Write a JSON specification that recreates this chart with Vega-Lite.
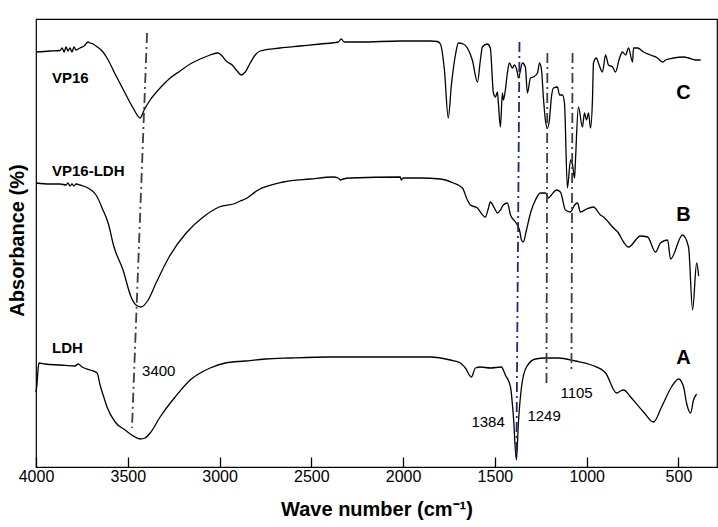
{
  "$schema": "https://vega.github.io/schema/vega-lite/v6.json",
  "width": 681,
  "height": 448,
  "autosize": "none",
  "padding": {"left": 36, "top": 19, "right": 1, "bottom": 60},
  "background": "white",
  "config": {
    "view": {"stroke": "black", "strokeWidth": 1.2},
    "font": "Liberation Sans",
    "axis": {"labelFont": "Liberation Sans", "titleFont": "Liberation Sans"},
    "text": {"font": "Liberation Sans"}
  },
  "datasets": {
    "spectra": [
      {"s":"C","w":4000,"a":415},{"s":"C","w":3924,"a":416},{"s":"C","w":3869,"a":416.5},{"s":"C","w":3858,"a":419},{"s":"C","w":3847,"a":415},{"s":"C","w":3836,"a":420},{"s":"C","w":3826,"a":416},{"s":"C","w":3815,"a":419},{"s":"C","w":3804,"a":415},{"s":"C","w":3793,"a":420},{"s":"C","w":3782,"a":417},{"s":"C","w":3760,"a":419},{"s":"C","w":3738,"a":421},{"s":"C","w":3716,"a":425},{"s":"C","w":3706,"a":424},{"s":"C","w":3689,"a":423},{"s":"C","w":3673,"a":421},{"s":"C","w":3651,"a":418},{"s":"C","w":3635,"a":415},{"s":"C","w":3613,"a":409},{"s":"C","w":3569,"a":393},{"s":"C","w":3515,"a":374},{"s":"C","w":3471,"a":359},{"s":"C","w":3433,"a":349},{"s":"C","w":3411,"a":357},{"s":"C","w":3378,"a":367},{"s":"C","w":3324,"a":379},{"s":"C","w":3269,"a":389},{"s":"C","w":3215,"a":396},{"s":"C","w":3160,"a":403},{"s":"C","w":3106,"a":408},{"s":"C","w":3051,"a":412},{"s":"C","w":3008,"a":414},{"s":"C","w":2986,"a":411},{"s":"C","w":2964,"a":406},{"s":"C","w":2931,"a":402},{"s":"C","w":2904,"a":396},{"s":"C","w":2882,"a":392},{"s":"C","w":2860,"a":395},{"s":"C","w":2833,"a":404},{"s":"C","w":2806,"a":412},{"s":"C","w":2779,"a":416},{"s":"C","w":2670,"a":419},{"s":"C","w":2561,"a":421},{"s":"C","w":2451,"a":423},{"s":"C","w":2353,"a":425},{"s":"C","w":2337,"a":428},{"s":"C","w":2321,"a":425},{"s":"C","w":2233,"a":425},{"s":"C","w":2015,"a":426},{"s":"C","w":1852,"a":426},{"s":"C","w":1813,"a":425.5},{"s":"C","w":1797,"a":423},{"s":"C","w":1775,"a":397},{"s":"C","w":1754,"a":349},{"s":"C","w":1737,"a":382},{"s":"C","w":1715,"a":412},{"s":"C","w":1699,"a":424},{"s":"C","w":1672,"a":423},{"s":"C","w":1650,"a":419},{"s":"C","w":1623,"a":407},{"s":"C","w":1595,"a":385},{"s":"C","w":1579,"a":407},{"s":"C","w":1568,"a":420},{"s":"C","w":1541,"a":423},{"s":"C","w":1525,"a":419},{"s":"C","w":1508,"a":374},{"s":"C","w":1497,"a":370},{"s":"C","w":1486,"a":375},{"s":"C","w":1481,"a":364},{"s":"C","w":1470,"a":340},{"s":"C","w":1459,"a":374},{"s":"C","w":1454,"a":367},{"s":"C","w":1443,"a":377},{"s":"C","w":1432,"a":394},{"s":"C","w":1421,"a":404},{"s":"C","w":1405,"a":399},{"s":"C","w":1394,"a":402},{"s":"C","w":1377,"a":394},{"s":"C","w":1372,"a":389},{"s":"C","w":1350,"a":404},{"s":"C","w":1334,"a":400},{"s":"C","w":1323,"a":374},{"s":"C","w":1306,"a":389},{"s":"C","w":1290,"a":390},{"s":"C","w":1268,"a":394},{"s":"C","w":1257,"a":404},{"s":"C","w":1246,"a":397},{"s":"C","w":1236,"a":370},{"s":"C","w":1225,"a":347},{"s":"C","w":1214,"a":339},{"s":"C","w":1203,"a":347},{"s":"C","w":1192,"a":370},{"s":"C","w":1181,"a":379},{"s":"C","w":1159,"a":380},{"s":"C","w":1148,"a":372},{"s":"C","w":1132,"a":372},{"s":"C","w":1121,"a":364},{"s":"C","w":1105,"a":279},{"s":"C","w":1088,"a":307},{"s":"C","w":1077,"a":302},{"s":"C","w":1066,"a":289},{"s":"C","w":1061,"a":307},{"s":"C","w":1045,"a":360},{"s":"C","w":1023,"a":340},{"s":"C","w":1012,"a":354},{"s":"C","w":1001,"a":347},{"s":"C","w":990,"a":354},{"s":"C","w":979,"a":339},{"s":"C","w":968,"a":370},{"s":"C","w":963,"a":404},{"s":"C","w":947,"a":409},{"s":"C","w":936,"a":404},{"s":"C","w":914,"a":395},{"s":"C","w":897,"a":412},{"s":"C","w":881,"a":402},{"s":"C","w":859,"a":400},{"s":"C","w":843,"a":395},{"s":"C","w":821,"a":409},{"s":"C","w":805,"a":415},{"s":"C","w":788,"a":412},{"s":"C","w":772,"a":419},{"s":"C","w":750,"a":405},{"s":"C","w":745,"a":419},{"s":"C","w":723,"a":419},{"s":"C","w":690,"a":415},{"s":"C","w":652,"a":412},{"s":"C","w":614,"a":409},{"s":"C","w":587,"a":405},{"s":"C","w":570,"a":407},{"s":"C","w":527,"a":409},{"s":"C","w":472,"a":410},{"s":"C","w":445,"a":409},{"s":"C","w":407,"a":407},{"s":"C","w":379,"a":407},
      {"s":"B","w":4000,"a":284},{"s":"B","w":3924,"a":283},{"s":"B","w":3869,"a":283},{"s":"B","w":3836,"a":282},{"s":"B","w":3826,"a":284},{"s":"B","w":3815,"a":281},{"s":"B","w":3804,"a":283},{"s":"B","w":3793,"a":281},{"s":"B","w":3782,"a":283},{"s":"B","w":3760,"a":282},{"s":"B","w":3727,"a":280},{"s":"B","w":3700,"a":277},{"s":"B","w":3673,"a":272},{"s":"B","w":3635,"a":257},{"s":"B","w":3607,"a":244},{"s":"B","w":3575,"a":220},{"s":"B","w":3526,"a":197},{"s":"B","w":3482,"a":170},{"s":"B","w":3455,"a":162},{"s":"B","w":3427,"a":160},{"s":"B","w":3389,"a":167},{"s":"B","w":3346,"a":184},{"s":"B","w":3275,"a":210},{"s":"B","w":3182,"a":234},{"s":"B","w":3089,"a":250},{"s":"B","w":3002,"a":260},{"s":"B","w":2909,"a":264},{"s":"B","w":2888,"a":266},{"s":"B","w":2860,"a":268},{"s":"B","w":2790,"a":277},{"s":"B","w":2653,"a":285},{"s":"B","w":2506,"a":288},{"s":"B","w":2381,"a":290},{"s":"B","w":2353,"a":289},{"s":"B","w":2342,"a":287},{"s":"B","w":2326,"a":288},{"s":"B","w":2288,"a":289},{"s":"B","w":2015,"a":290},{"s":"B","w":2010,"a":287},{"s":"B","w":1999,"a":289},{"s":"B","w":1906,"a":289},{"s":"B","w":1797,"a":288},{"s":"B","w":1726,"a":284},{"s":"B","w":1677,"a":279},{"s":"B","w":1650,"a":267},{"s":"B","w":1634,"a":262},{"s":"B","w":1595,"a":259},{"s":"B","w":1579,"a":255},{"s":"B","w":1552,"a":250},{"s":"B","w":1535,"a":259},{"s":"B","w":1525,"a":265},{"s":"B","w":1503,"a":259},{"s":"B","w":1486,"a":254},{"s":"B","w":1470,"a":257},{"s":"B","w":1454,"a":262},{"s":"B","w":1432,"a":264},{"s":"B","w":1415,"a":252},{"s":"B","w":1388,"a":245},{"s":"B","w":1366,"a":237},{"s":"B","w":1355,"a":227},{"s":"B","w":1345,"a":225},{"s":"B","w":1328,"a":237},{"s":"B","w":1306,"a":254},{"s":"B","w":1279,"a":267},{"s":"B","w":1252,"a":274},{"s":"B","w":1225,"a":274},{"s":"B","w":1208,"a":269},{"s":"B","w":1192,"a":272},{"s":"B","w":1165,"a":277},{"s":"B","w":1143,"a":275},{"s":"B","w":1116,"a":257},{"s":"B","w":1088,"a":255},{"s":"B","w":1066,"a":262},{"s":"B","w":1050,"a":264},{"s":"B","w":1034,"a":255},{"s":"B","w":1001,"a":258},{"s":"B","w":963,"a":260},{"s":"B","w":925,"a":252},{"s":"B","w":908,"a":250},{"s":"B","w":859,"a":240},{"s":"B","w":827,"a":234},{"s":"B","w":799,"a":225},{"s":"B","w":772,"a":220},{"s":"B","w":707,"a":231},{"s":"B","w":668,"a":230},{"s":"B","w":625,"a":215},{"s":"B","w":598,"a":224},{"s":"B","w":559,"a":227},{"s":"B","w":543,"a":208},{"s":"B","w":478,"a":232},{"s":"B","w":445,"a":220},{"s":"B","w":423,"a":157},{"s":"B","w":401,"a":204},{"s":"B","w":390,"a":191},
      {"s":"A","w":4000,"a":75},{"s":"A","w":3995,"a":82},{"s":"A","w":3989,"a":97},{"s":"A","w":3984,"a":104},{"s":"A","w":3951,"a":103},{"s":"A","w":3869,"a":102},{"s":"A","w":3787,"a":101},{"s":"A","w":3771,"a":103},{"s":"A","w":3749,"a":100},{"s":"A","w":3706,"a":97},{"s":"A","w":3667,"a":94},{"s":"A","w":3651,"a":82},{"s":"A","w":3629,"a":69},{"s":"A","w":3613,"a":60},{"s":"A","w":3569,"a":45},{"s":"A","w":3515,"a":37},{"s":"A","w":3460,"a":30},{"s":"A","w":3433,"a":28},{"s":"A","w":3406,"a":29},{"s":"A","w":3378,"a":34},{"s":"A","w":3324,"a":50},{"s":"A","w":3242,"a":70},{"s":"A","w":3160,"a":87},{"s":"A","w":3051,"a":99},{"s":"A","w":2969,"a":104},{"s":"A","w":2860,"a":106},{"s":"A","w":2751,"a":108},{"s":"A","w":2615,"a":109},{"s":"A","w":2397,"a":110},{"s":"A","w":2244,"a":110},{"s":"A","w":2015,"a":110},{"s":"A","w":1852,"a":110},{"s":"A","w":1743,"a":107},{"s":"A","w":1688,"a":104},{"s":"A","w":1661,"a":99},{"s":"A","w":1628,"a":90},{"s":"A","w":1606,"a":99},{"s":"A","w":1579,"a":100},{"s":"A","w":1525,"a":99},{"s":"A","w":1465,"a":100},{"s":"A","w":1443,"a":92},{"s":"A","w":1415,"a":80},{"s":"A","w":1399,"a":50},{"s":"A","w":1383,"a":7},{"s":"A","w":1372,"a":44},{"s":"A","w":1355,"a":80},{"s":"A","w":1328,"a":100},{"s":"A","w":1279,"a":108},{"s":"A","w":1225,"a":109},{"s":"A","w":1154,"a":109},{"s":"A","w":1061,"a":106},{"s":"A","w":974,"a":102},{"s":"A","w":897,"a":94},{"s":"A","w":837,"a":74},{"s":"A","w":816,"a":76},{"s":"A","w":799,"a":77},{"s":"A","w":756,"a":69},{"s":"A","w":690,"a":55},{"s":"A","w":636,"a":45},{"s":"A","w":592,"a":60},{"s":"A","w":538,"a":80},{"s":"A","w":499,"a":88},{"s":"A","w":472,"a":80},{"s":"A","w":456,"a":64},{"s":"A","w":434,"a":54},{"s":"A","w":418,"a":67},{"s":"A","w":401,"a":73}
    ],
    "guides": [
      {"kind":"OH","w":3395,"a":434,"w2":3477,"a2":39},
      {"kind":"nitrate","w":1366,"a":425,"w2":1383,"a2":10},
      {"kind":"drug","w":1214,"a":414,"w2":1219,"a2":84},
      {"kind":"drug","w":1077,"a":414,"w2":1083,"a2":94}
    ],
    "majorTicks": [{"w":4000},{"w":3500},{"w":3000},{"w":2500},{"w":2000},{"w":1500},{"w":1000},{"w":500}],
    "minorTicks": [{"w":3750},{"w":3250},{"w":2750},{"w":2250},{"w":1750},{"w":1250},{"w":750}],
    "names": [
      {"t":"VP16","w":3913,"a":389},
      {"t":"VP16-LDH","w":3913,"a":296},
      {"t":"LDH","w":3913,"a":119}
    ],
    "letters": [
      {"t":"C","w":472,"a":374},
      {"t":"B","w":472,"a":252},
      {"t":"A","w":472,"a":109}
    ],
    "peaks": [
      {"t":"3400","w":3422,"a":96},
      {"t":"1384","w":1628,"a":45},
      {"t":"1249","w":1323,"a":51},
      {"t":"1105","w":1143,"a":74}
    ]
  },
  "encoding": {
    "x": {
      "field": "w", "type": "quantitative",
      "scale": {"domain": [290, 4000], "reverse": true, "zero": false, "nice": false},
      "axis": {
        "title": "Wave number (cm⁻¹)",
        "values": [4000,3500,3000,2500,2000,1500,1000,500],
        "format": "d",
        "ticks": true,
        "tickSize": -10,
        "tickColor": "black",
        "tickWidth": 1.3,
        "zindex": 1,
        "domain": false, "grid": false,
        "labelFontSize": 16, "labelColor": "black", "labelPadding": 11, "labelFlush": false,
        "titleFontSize": 20, "titleFontWeight": "bold", "titleColor": "black",
        "titleBaseline": "middle", "titleY": 42
      }
    },
    "y": {
      "field": "a", "type": "quantitative",
      "scale": {"domain": [0, 448], "zero": false, "nice": false},
      "axis": {
        "title": "Absorbance (%)", "labels": false, "ticks": false, "domain": false, "grid": false,
        "titleFontSize": 20, "titleFontWeight": "bold", "titleColor": "black",
        "titleAngle": -90, "titleAlign": "center", "titleBaseline": "middle",
        "titleX": -19, "titleY": 221
      }
    }
  },
  "layer": [
    {
      "data": {"name": "spectra"},
      "mark": {"type": "line", "color": "black", "strokeWidth": 1.3, "interpolate": "monotone"},
      "encoding": {
        "detail": {"field": "s", "type": "nominal"}
      }
    },
    {
      "data": {"name": "majorTicks"},
      "mark": {"type": "rule", "color": "black", "strokeWidth": 1.4, "opacity": 1},
      "encoding": {
        "y": {"datum": 0, "type": "quantitative"},
        "y2": {"datum": 11}
      }
    },
    {
      "data": {"name": "minorTicks"},
      "mark": {"type": "rule", "color": "black", "strokeWidth": 1.4, "opacity": 1},
      "encoding": {
        "y": {"datum": 0, "type": "quantitative"},
        "y2": {"datum": 6}
      }
    },
    {
      "data": {"name": "guides"},
      "mark": {"type": "rule", "strokeWidth": 1.8, "strokeDash": [10, 4, 2, 4]},
      "encoding": {
        "x2": {"field": "w2"},
        "y2": {"field": "a2"},
        "color": {"field": "kind", "type": "nominal", "legend": null,
          "scale": {"domain": ["OH", "nitrate", "drug"], "range": ["#3a3f47", "#1d2a78", "#3a3f47"]}}
      }
    },
    {
      "data": {"name": "names"},
      "mark": {"type": "text", "align": "left", "baseline": "middle", "fontSize": 15, "fontWeight": "bold", "color": "black"},
      "encoding": {
        "text": {"field": "t"}
      }
    },
    {
      "data": {"name": "letters"},
      "mark": {"type": "text", "align": "center", "baseline": "middle", "fontSize": 20, "fontWeight": "bold", "color": "black"},
      "encoding": {
        "text": {"field": "t"}
      }
    },
    {
      "data": {"name": "peaks"},
      "mark": {"type": "text", "align": "left", "baseline": "middle", "fontSize": 15, "color": "black"},
      "encoding": {
        "text": {"field": "t"}
      }
    }
  ]
}
